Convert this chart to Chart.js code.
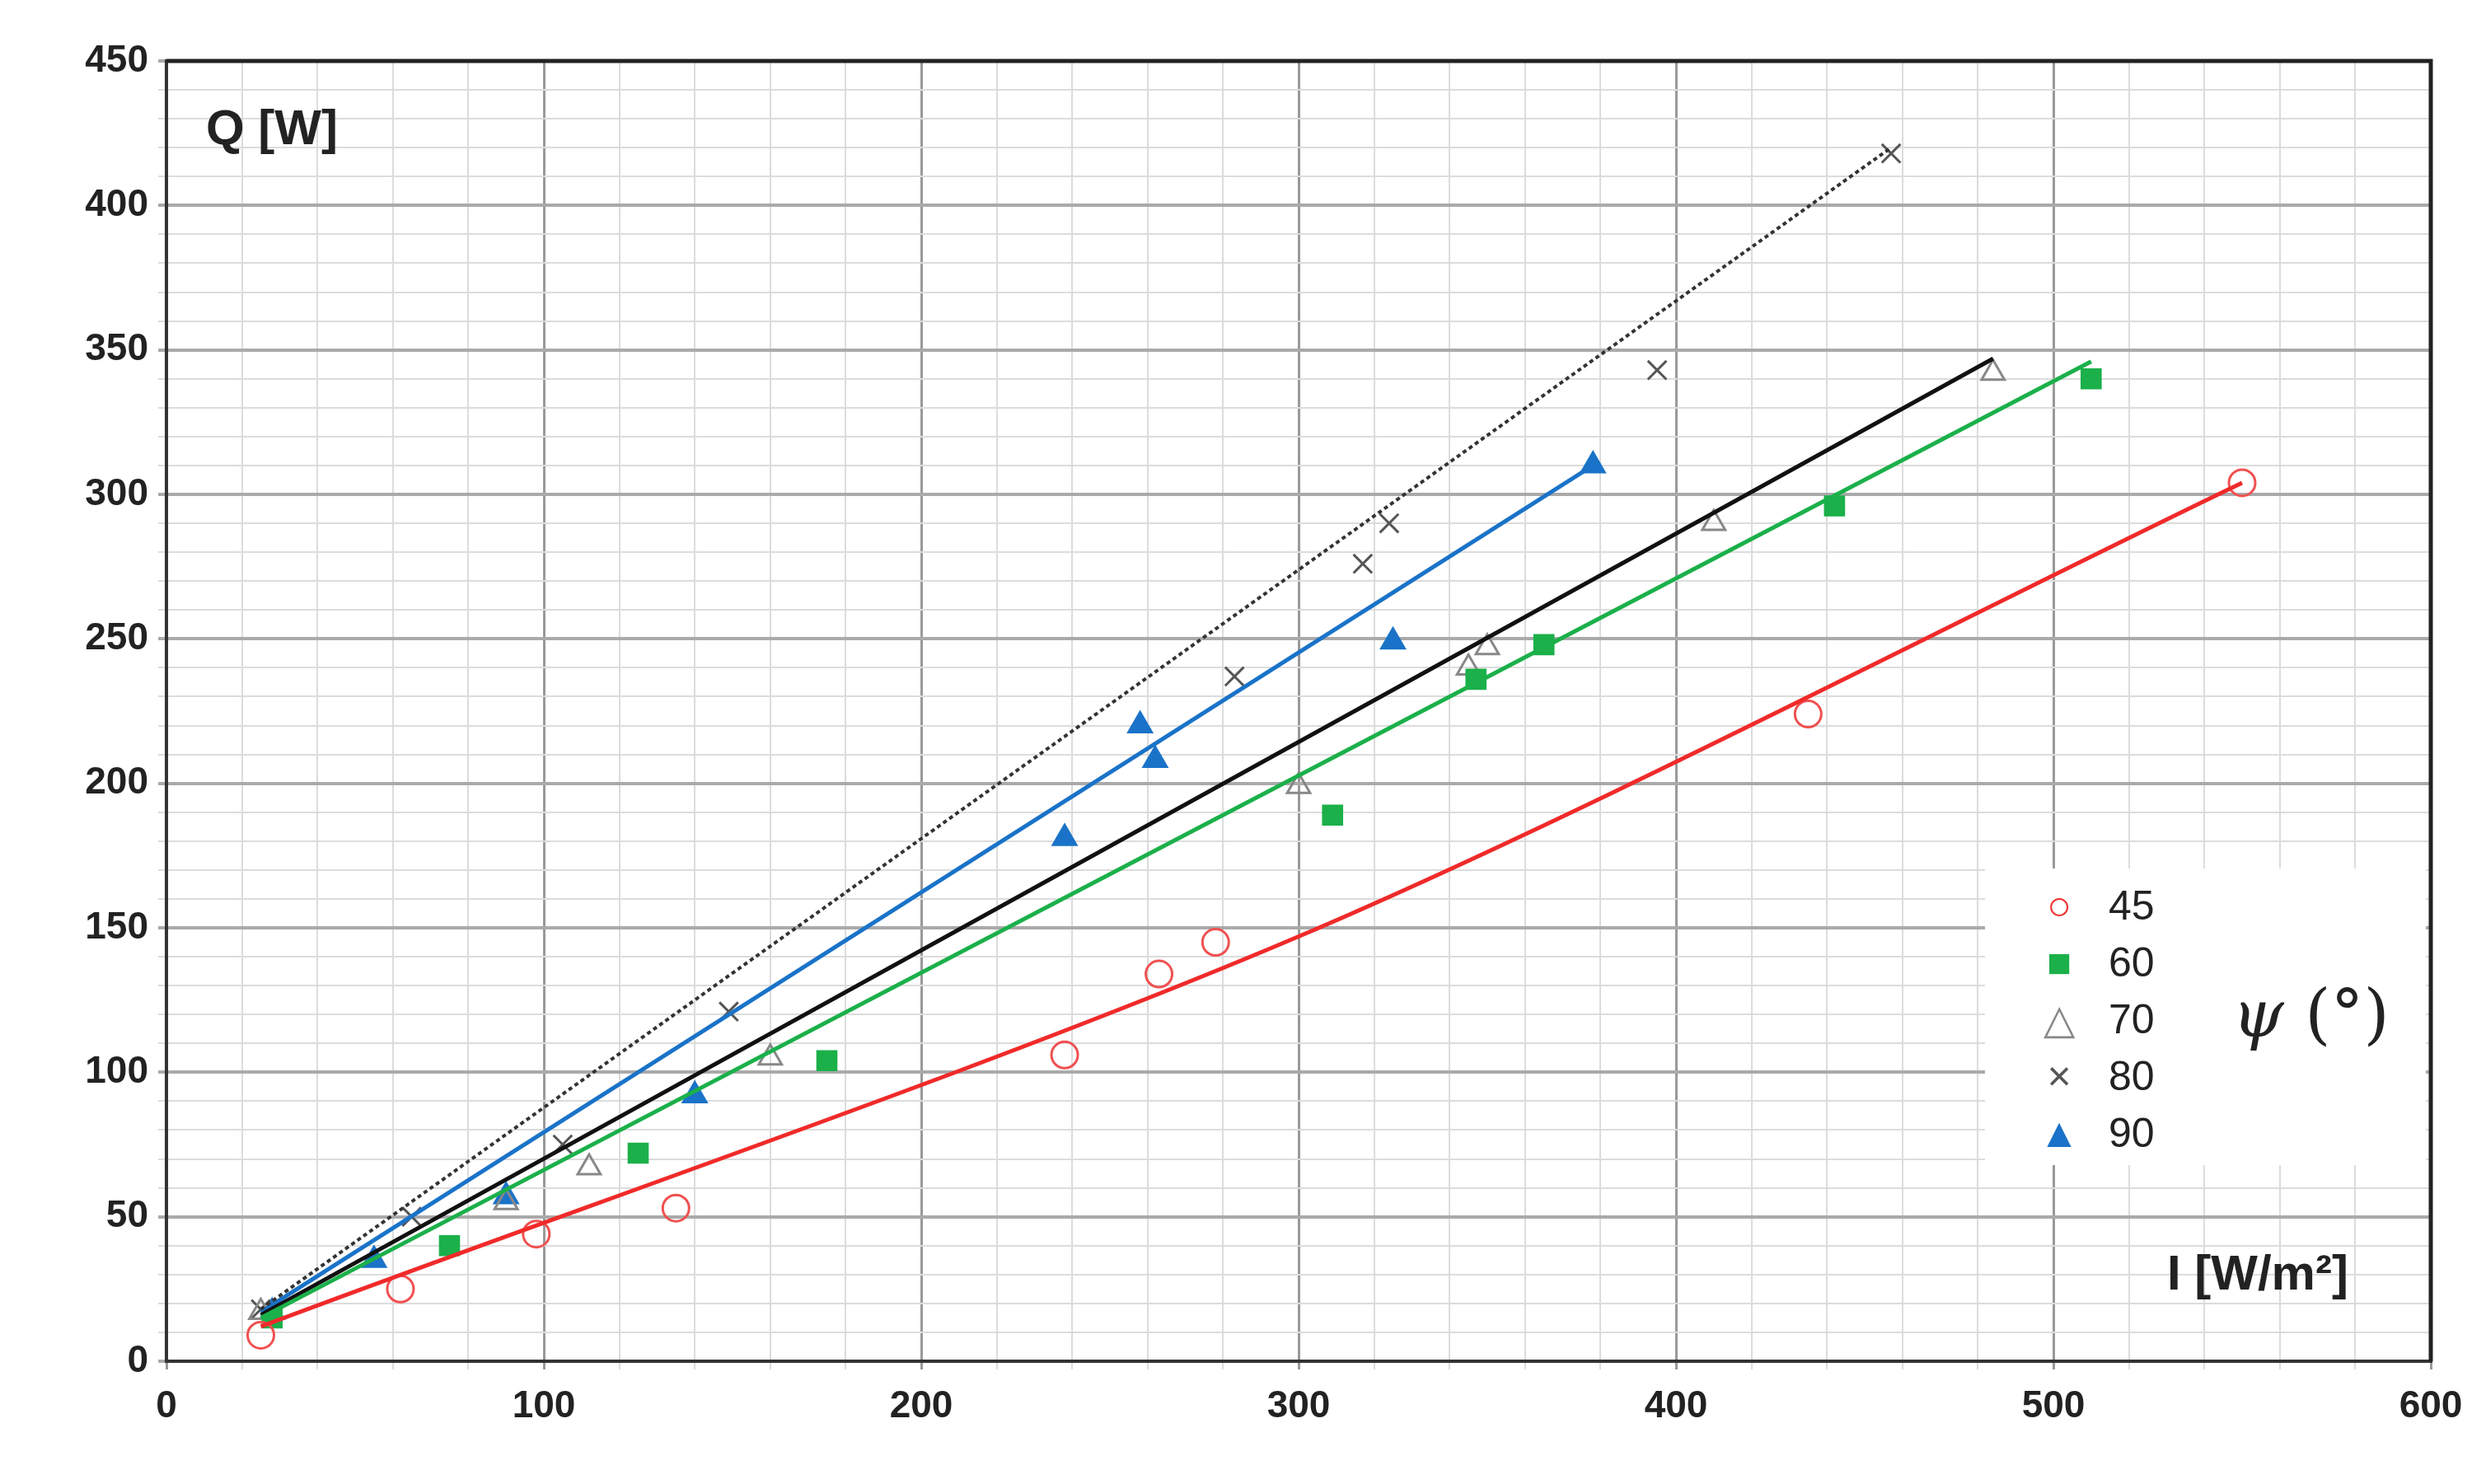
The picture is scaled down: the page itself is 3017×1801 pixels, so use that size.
<!DOCTYPE html>
<html><head><meta charset="utf-8">
<script src="https://cdn.jsdelivr.net/npm/chart.js@4"></script>
<style>
html,body{margin:0;padding:0;background:#fff;}
#wrap{position:relative;width:3017px;height:1801px;font-family:"Liberation Sans",Arial,sans-serif;}
canvas{position:absolute;left:0;top:0;}
.t{position:absolute;font-weight:bold;font-size:60px;color:#222;}
#legend{position:absolute;left:2409px;top:1054px;width:535px;height:360px;background:#fff;}
.li{position:absolute;left:60px;font-size:50px;color:#222;height:70px;line-height:70px;}
.li span.m{display:inline-block;width:60px;text-align:center;margin-right:30px;}
#psi{position:absolute;left:300px;top:130px;font-size:80px;font-family:"DejaVu Serif",serif;font-style:italic;color:#222;}
</style></head><body>
<div id="wrap"><canvas id="c" width="3017" height="1801"></canvas>
<div class="t" style="left:250px;top:120px;">Q [W]</div>
<div class="t" style="left:2630px;top:1510px;">I [W/m²]</div>
<div id="legend">
<div class="li" style="top:10px"><span class="m" style="color:#f03030">○</span>45</div>
<div class="li" style="top:79px"><span class="m" style="color:#1bb04a">■</span>60</div>
<div class="li" style="top:148px"><span class="m" style="color:#888">△</span>70</div>
<div class="li" style="top:217px"><span class="m" style="color:#555">×</span>80</div>
<div class="li" style="top:286px"><span class="m" style="color:#1a73c8">▲</span>90</div>
<div id="psi">ψ <span style="font-style:normal">(°)</span></div>
</div>
</div>
<script>
const xs45=[25,62,98,135,238,263,278,435,550];
const ys45=[9,25,44,53,106,134,145,224,304];
const xs60=[28,75,125,175,309,347,365,442,510];
const ys60=[15,40,72,104,189,236,248,296,340];
const xs70=[25,90,112,160,300,345,350,410,484];
const ys70=[17,55,67,105,199,240,247,290,342];
const xs80=[25,65,105,149,283,317,324,395,457];
const ys80=[18,50,75,121,237,276,290,343,418];
const xs90=[28,55,90,140,238,258,262,325,378];
const ys90=[17,35,57,92,181,220,208,249,310];
const fit45x=[25,300,550], fit45y=[12,147,304];
const fit60x=[25,510], fit60y=[15,346];
const fit70x=[25,484], fit70y=[16,347];
const fit80x=[25,457], fit80y=[18,420];
const fit90x=[25,378], fit90y=[17,310];
const xTicks=[0,100,200,300,400,500,600];
const yTicks=[0,50,100,150,200,250,300,350,400,450];
const pts=(a,b)=>a.map((v,i)=>({x:v,y:b[i]}));
function sc(x,y,style,color,fill){return{data:pts(x,y),showLine:false,pointStyle:style,pointRadius:16,pointBorderWidth:3,borderColor:color,backgroundColor:fill};}
function ln(x,y,color,dash,w){return{data:pts(x,y),showLine:true,pointRadius:0,borderColor:color,borderWidth:w||5,borderDash:dash||[],tension:0.3,fill:false};}
new Chart(document.getElementById('c'),{type:'scatter',
data:{datasets:[
ln(fit45x,fit45y,'#f02a2a'),ln(fit60x,fit60y,'#1bb04a'),ln(fit70x,fit70y,'#111'),ln(fit80x,fit80y,'#333',[5,4],4),ln(fit90x,fit90y,'#1a73c8'),
sc(xs45,ys45,'circle','#f05050','rgba(0,0,0,0)'),
sc(xs60,ys60,'rect','#1bb04a','#1bb04a'),
sc(xs70,ys70,'triangle','#888','rgba(0,0,0,0)'),
sc(xs80,ys80,'crossRot','#555','#555'),
sc(xs90,ys90,'triangle','#1a73c8','#1a73c8')]},
options:{responsive:false,animation:false,devicePixelRatio:1,
layout:{padding:{top:74,right:67,left:0,bottom:0}},
plugins:{legend:{display:false},tooltip:{enabled:false}},
scales:{
x:{type:'linear',min:0,max:600,afterFit:s=>{s.height=149;},
 ticks:{stepSize:20,autoSkip:false,maxRotation:0,color:'#222',font:{size:46,weight:'bold',family:'Liberation Sans'},padding:18,callback:v=>xTicks.includes(v)?v:''},
 grid:{color:c=>c.tick.value%100===0?'#999':'#dcdcdc',lineWidth:c=>c.tick.value%100===0?3:2,tickLength:10},
 border:{color:'#333',width:4}},
y:{type:'linear',min:0,max:450,afterFit:s=>{s.width=202;},
 ticks:{stepSize:10,autoSkip:false,color:'#222',font:{size:46,weight:'bold',family:'Liberation Sans'},padding:12,callback:v=>yTicks.includes(v)?v:''},
 grid:{color:c=>c.tick.value%50===0?'#aaa':'#dcdcdc',lineWidth:c=>c.tick.value%50===0?4:2,tickLength:10},
 border:{color:'#333',width:4}}
}},
plugins:[{id:'frame',afterDraw(ch){const a=ch.chartArea,g=ch.ctx;g.save();g.strokeStyle='#222';g.lineWidth=5;g.beginPath();g.moveTo(a.left,a.top);g.lineTo(a.right,a.top);g.lineTo(a.right,a.bottom);g.stroke();g.restore();}}]
});
</script></body></html>
